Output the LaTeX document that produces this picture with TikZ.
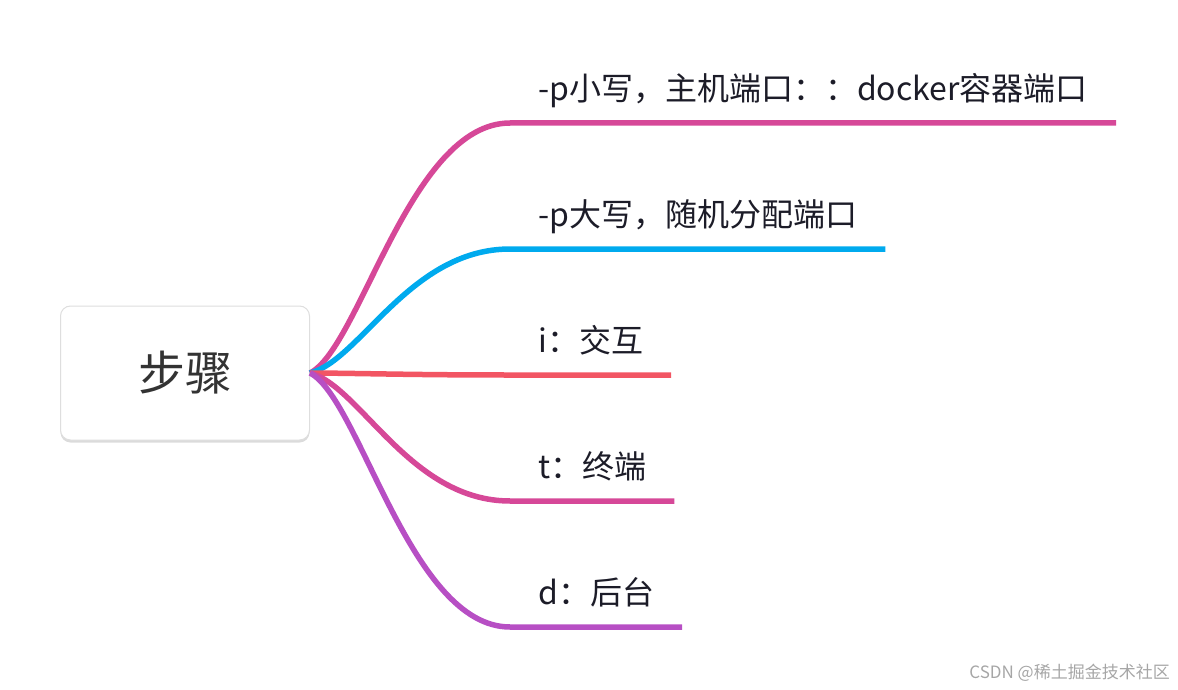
\documentclass[tikz,border=0pt]{standalone}
\usepackage{fontspec}
\newfontfamily\cjk{Noto Sans CJK SC}
\usetikzlibrary{calc,shadows}
\definecolor{rosebranch}{HTML}{D64898}
\definecolor{skybranch}{HTML}{00AAEE}
\definecolor{redbranch}{HTML}{F25563}
\definecolor{violetbranch}{HTML}{B74FC4}
\definecolor{inkc}{HTML}{1C1C28}
\tikzset{
	topic/.style={draw=black!13, line width=1pt, fill=white, rounded corners=10pt,
		minimum width=249pt, minimum height=134pt, text=black!80,
		font=\cjk\fontsize{47}{52}\selectfont,
		drop shadow={shadow xshift=0pt, shadow yshift=-2.5pt, fill=black!14, opacity=1}},
	subtopic/.style={anchor=south west, inner xsep=28pt, inner ysep=0pt,
		text depth=22pt, yshift=-2pt, text=inkc,
		font=\cjk\fontsize{32}{36}\selectfont}
}
\begin{document}
\begin{tikzpicture}[x=1pt, y=-1pt,
		grow'=east,
		level distance=325pt,
		sibling distance=126pt,
		parent anchor=east,
		every child node/.style={subtopic},
		edge from parent/.style={draw, line width=5.5pt},
		edge from parent path={(\tikzparentnode.east)
			.. controls ($(\tikzparentnode.east)!0.1!(\tikzchildnode.south west)+(30,0)$)
			and ($(\tikzchildnode.south west)+(-100,0)$) .. (\tikzchildnode.south west)
			-- (\tikzchildnode.south east)}]
		\useasboundingbox (0,0) rectangle (1178,690);
		\node[topic] (steps) at (185,373) {步骤}
		child {node (plower) {-p小写，主机端口：：docker容器端口} edge from parent[draw=rosebranch]}
		child {node (pupper) {-p大写，随机分配端口} edge from parent[draw=skybranch]}
		child {node (inter) {i：交互} edge from parent[draw=redbranch]}
		child {node (term) {t：终端} edge from parent[draw=rosebranch]}
		child {node (detach) {d：后台} edge from parent[draw=violetbranch]}
		;
		\node[anchor=south east, inner sep=0pt, text=black!35,
			font=\cjk\fontsize{17}{20}\selectfont] (mark) at (1170,682) {CSDN @稀土掘金技术社区};
\end{tikzpicture}
\end{document}
